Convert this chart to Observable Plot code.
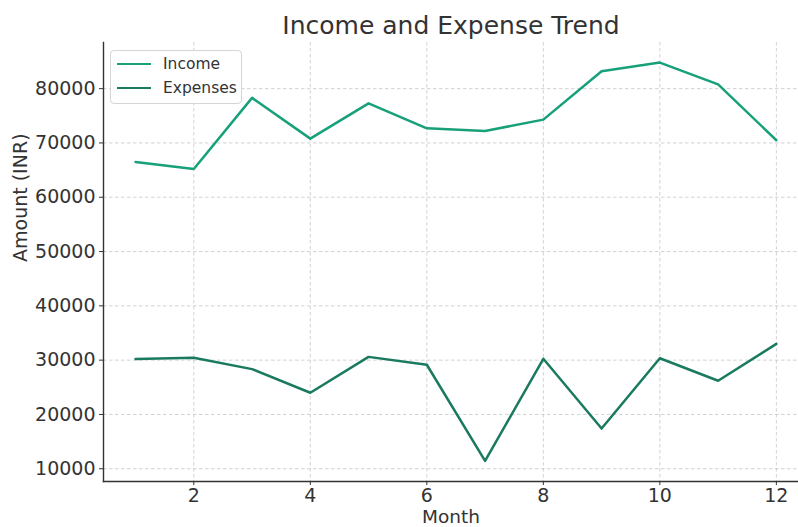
<!DOCTYPE html>
<html>
<head>
<meta charset="utf-8">
<script src="https://cdn.jsdelivr.net/npm/d3@7"></script>
<script src="https://cdn.jsdelivr.net/npm/@observablehq/plot@0.6"></script>
<style>
  html, body { margin: 0; padding: 0; background: #fff; overflow: hidden; }
  #wrap { position: relative; width: 798px; height: 527px; }
  .legend {
    position: absolute; left: 110px; top: 50px; width: 132px; height: 54px;
    box-sizing: border-box; border: 1px solid #d5d5d5; border-radius: 4px;
    background: rgba(255,255,255,0.85);
    font-family: "DejaVu Sans", sans-serif; font-size: 15.5px; color: #333;
  }
  .legend .row { position: absolute; left: 6px; height: 20px; display: flex; align-items: center; }
  .legend .sw { width: 34px; height: 0; border-top: 2.5px solid; margin-right: 12px; }
</style>
</head>
<body>
<div id="wrap"></div>
<script>
const months = [1, 2, 3, 4, 5, 6, 7, 8, 9, 10, 11, 12];
const income = [66500, 65200, 78300, 70800, 77300, 72700, 72200, 74300, 83200, 84800, 80800, 70500];
const expenses = [30200, 30450, 28350, 24000, 30600, 29150, 11450, 30250, 17400, 30350, 26200, 33000];
const yTicks = [10000, 20000, 30000, 40000, 50000, 60000, 70000, 80000];
const xTicks = [2, 4, 6, 8, 10, 12];
const seriesNames = ["Income", "Expenses"];
const seriesColors = ["#17a07a", "#1a7a5f"];

const rows = months.flatMap((m, i) => [
  {month: m, amount: income[i], series: seriesNames[0]},
  {month: m, amount: expenses[i], series: seriesNames[1]}
]);

const chart = Plot.plot({
  width: 798,
  height: 527,
  marginLeft: 103,
  marginRight: 0,
  marginTop: 42,
  marginBottom: 46,
  style: {fontFamily: "DejaVu Sans, sans-serif", fontSize: "19px", color: "#333", background: "#fff"},
  x: {domain: [0.45, 12.38], ticks: xTicks, label: null},
  y: {domain: [7650, 88500], ticks: yTicks, label: null},
  color: {domain: seriesNames, range: seriesColors},
  marks: [
    Plot.gridX(xTicks, {stroke: "#b8b8b8", strokeOpacity: 0.8, strokeDasharray: "3.5,2.5", strokeWidth: 0.8}),
    Plot.gridY(yTicks, {stroke: "#b8b8b8", strokeOpacity: 0.8, strokeDasharray: "3.5,2.5", strokeWidth: 0.8}),
    Plot.axisX(xTicks, {tickSize: 4, tickPadding: 3, stroke: "#333", fill: "#333", fontSize: 19, tickFormat: d => String(d), label: null}),
    Plot.axisY(yTicks, {tickSize: 4, tickPadding: 4, stroke: "#333", fill: "#333", fontSize: 19, tickFormat: d => String(d), label: null}),
    Plot.frame({anchor: "left", stroke: "#333", strokeWidth: 1.4}),
    Plot.frame({anchor: "bottom", stroke: "#333", strokeWidth: 1.4}),
    Plot.line(rows, {x: "month", y: "amount", z: "series", stroke: "series", strokeWidth: 2.5}),
    Plot.text(["Income and Expense Trend"], {frameAnchor: "top", lineAnchor: "middle", dy: -17, fontSize: 25, fill: "#333"}),
    Plot.text(["Month"], {frameAnchor: "bottom", lineAnchor: "middle", dy: 35.5, fontSize: 18.5, fill: "#333"}),
    Plot.text(["Amount (INR)"], {frameAnchor: "left", dx: -83, rotate: -90, fontSize: 19, fill: "#333"})
  ]
});

const wrap = document.getElementById("wrap");
wrap.appendChild(chart);

// legend box drawn over the upper-left corner of the plot area
const legend = document.createElement("div");
legend.className = "legend";
seriesNames.forEach((name, i) => {
  const row = document.createElement("div");
  row.className = "row";
  row.style.top = (3 + i * 24) + "px";
  const sw = document.createElement("span");
  sw.className = "sw";
  sw.style.borderColor = seriesColors[i];
  const label = document.createElement("span");
  label.textContent = name;
  row.appendChild(sw);
  row.appendChild(label);
  legend.appendChild(row);
});
wrap.appendChild(legend);
</script>
</body>
</html>
